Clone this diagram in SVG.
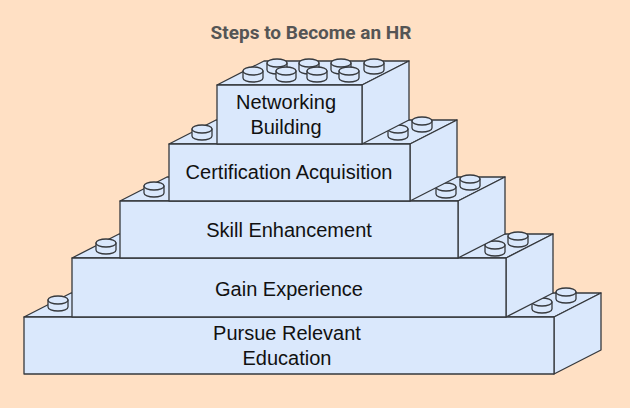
<svg xmlns="http://www.w3.org/2000/svg" xmlns:xlink="http://www.w3.org/1999/xlink" width="630" height="408" viewBox="0 0 630 408">
<style>
.b{fill:#dae8fc;stroke:#36393d;stroke-width:1.3;stroke-linejoin:round}
.t{font-family:"Liberation Sans",Arial,sans-serif;font-size:20px;fill:#111;text-anchor:middle}
</style>
<defs>
<g id="stud"><path class="b" d="M-10,0v7a10,4 0 0 0 20,0v-7z"/><ellipse class="b" cx="0" cy="0" rx="10" ry="4"/></g>
</defs>
<rect width="630" height="408" fill="#ffe0c4"/>
<text x="311" y="39" font-family="Roboto,sans-serif" font-weight="bold" font-size="19" fill="#555" text-anchor="middle">Steps to Become an HR</text>
<g id="brick1">
<path class="b" d="M24,317L71,293H601L554,317Z"/><path class="b" d="M554,317L601,293V350L554,374Z"/>
<rect class="b" x="24" y="317" width="530" height="57"/>
<use xlink:href="#stud" x="58" y="300"/><use xlink:href="#stud" x="566" y="292"/><use xlink:href="#stud" x="542" y="302"/>
<text class="t" x="287" y="340">Pursue Relevant</text><text class="t" x="287" y="365">Education</text>
</g>
<g id="brick2">
<path class="b" d="M72,258L119,234H553L506,258Z"/><path class="b" d="M506,258L553,234V293L506,317Z"/>
<rect class="b" x="72" y="258" width="434" height="59"/>
<use xlink:href="#stud" x="106" y="243"/><use xlink:href="#stud" x="518" y="236"/><use xlink:href="#stud" x="495" y="245"/>
<text class="t" x="289" y="296">Gain Experience</text>
</g>
<g id="brick3">
<path class="b" d="M120,201L167,177H505L458,201Z"/><path class="b" d="M458,201L505,177V234L458,258Z"/>
<rect class="b" x="120" y="201" width="338" height="57"/>
<use xlink:href="#stud" x="154" y="186"/><use xlink:href="#stud" x="470" y="179"/><use xlink:href="#stud" x="446" y="187"/>
<text class="t" x="289" y="237">Skill Enhancement</text>
</g>
<g id="brick4">
<path class="b" d="M169,144L216,120H457L410,144Z"/><path class="b" d="M410,144L457,120V177L410,201Z"/>
<rect class="b" x="169" y="144" width="241" height="57"/>
<use xlink:href="#stud" x="202" y="129"/><use xlink:href="#stud" x="422" y="121"/><use xlink:href="#stud" x="398" y="129"/>
<text class="t" x="289" y="179">Certification Acquisition</text>
</g>
<g id="brick5">
<path class="b" d="M217,85L264,61H409L362,85Z"/><path class="b" d="M362,85L409,61V120L362,144Z"/>
<rect class="b" x="217" y="85" width="145" height="59"/>
<use xlink:href="#stud" x="277" y="63"/><use xlink:href="#stud" x="309" y="63"/><use xlink:href="#stud" x="341" y="63"/><use xlink:href="#stud" x="374" y="63"/>
<use xlink:href="#stud" x="253" y="71"/><use xlink:href="#stud" x="286" y="71"/><use xlink:href="#stud" x="317" y="71"/><use xlink:href="#stud" x="349" y="71"/>
<text class="t" x="286" y="109">Networking</text><text class="t" x="286" y="134">Building</text>
</g>
</svg>
